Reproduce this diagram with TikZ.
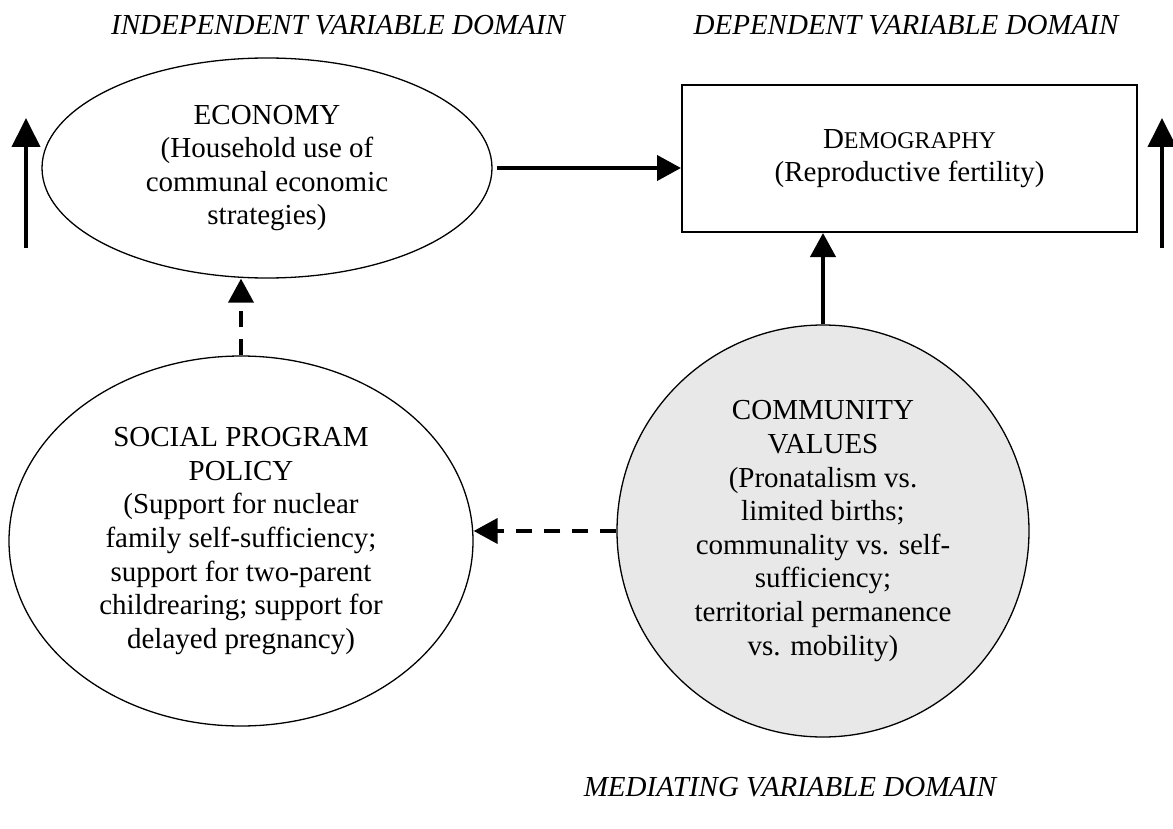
\documentclass[tikz,border=0pt]{standalone}
\usepackage{fontspec}
\setmainfont{Liberation Serif}
\usetikzlibrary{shapes.geometric,arrows.meta}

\tikzset{
  txt/.style={font=\fontsize{14.5pt}{16.8pt}\selectfont, align=center},
  oval/.style={txt, ellipse, draw, line width=0.65pt, inner sep=0pt},
  box/.style={txt, rectangle, draw, line width=1pt},
  link/.style={line width=2pt, -{Triangle[length=12pt,width=12.5pt]}},
  dlink/.style={link, dash pattern=on 8pt off 6pt},
  side/.style={line width=2pt, -{Triangle[length=14.5pt,width=14pt]}},
  domtitle/.style={font=\fontsize{14.5pt}{16.8pt}\selectfont\itshape}
}

\begin{document}
\begin{tikzpicture}[x=0.5pt,y=-0.5pt]
	\useasboundingbox (0,0) rectangle (1173,829);

	% Domain titles
	\node[domtitle] (indep) at (338,25) {INDEPENDENT VARIABLE DOMAIN};
	\node[domtitle] (dep) at (906,25) {DEPENDENT VARIABLE DOMAIN};
	\node[domtitle] (medi) at (790,787) {MEDIATING VARIABLE DOMAIN};

	% Economy
	\node[oval, minimum width=225pt, minimum height=110pt] (econ) at (267,168)
		{ECONOMY\\(Household use of\\communal economic\\strategies)};
	% Demography
	\node[box, minimum width=227.5pt, minimum height=73.5pt] (demo) at (909.5,158.5)
		{D{\fontsize{12pt}{16.8pt}\selectfont EMOGRAPHY}\\(Reproductive fertility)};
	% Social program policy
	\node[oval, minimum width=232pt, minimum height=185pt] (social) at (241,541)
		{SOCIAL PROGRAM\\POLICY\\(Support for nuclear\\family self-sufficiency;\\support for two-parent\\childrearing; support for\\delayed pregnancy)};
	% Community values
	\node[oval, fill=black!9, minimum width=206pt, minimum height=206pt] (comm) at (823,531)
		{COMMUNITY\\VALUES\\(Pronatalism vs.\\limited births;\\communality vs. self-\\sufficiency;\\territorial permanence\\vs. mobility)};

	% Side arrows
	\coordinate (lbot) at (26,248);
	\coordinate (ltop) at (26,118);
	\coordinate (rbot) at (1162,248);
	\coordinate (rtop) at (1162,118);
	\draw[side] (lbot) -- (ltop);
	\draw[side] (rbot) -- (rtop);

	% Connections
	\draw[link, shorten <=2pt] (econ) -- (econ -| demo.west);
	\draw[link] (comm.north) -- (comm.north |- demo.south);
	\draw[dlink] (social.north) -- (social.north |- econ.south);
	\draw[dlink] (comm.west) -- (comm.west -| social.east);

\end{tikzpicture}
\end{document}
